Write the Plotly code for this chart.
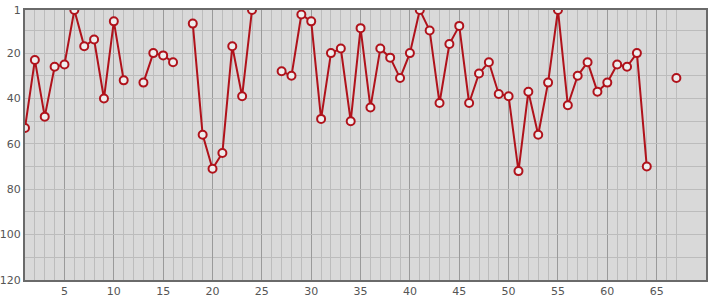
import plotly.graph_objects as go

x_vals = list(range(1, 68))
ranks = [53, 23, 48, 26, 25, 1, 17, 14, 40, 6,
         32, None, 33, 20, 21, 24, None, 7, 56, 71,
         64, 17, 39, 1, None, None, 28, 30, 3, 6,
         49, 20, 18, 50, 9, 44, 18, 22, 31, 20,
         1, 10, 42, 16, 8, 42, 29, 24, 38, 39,
         72, 37, 56, 33, 1, 43, 30, 24, 37, 33,
         25, 26, 20, 70, None, None, 31]
y_ticks = [1, 20, 40, 60, 80, 100, 120]
x_ticks = [5, 10, 15, 20, 25, 30, 35, 40, 45, 50, 55, 60, 65]

fig = go.Figure()
fig.add_trace(go.Scatter(
    x=x_vals, y=ranks, mode="lines+markers",
    line=dict(color="#b0121b", width=2),
    marker=dict(symbol="circle", size=8, color="#eeeeee",
                line=dict(color="#b0121b", width=2)),
    connectgaps=False, hoverinfo="x+y",
))

fig.update_layout(
    width=715, height=300,
    margin=dict(l=25, r=9, t=10, b=20),
    paper_bgcolor="white", plot_bgcolor="#d9d9d9",
    showlegend=False,
    font=dict(family="DejaVu Sans", size=11, color="#555555"),
)
fig.update_xaxes(
    range=[1, 70], tickmode="array", tickvals=x_ticks, automargin=False,
    showgrid=True, gridcolor="#9a9a9a", gridwidth=1,
    minor=dict(tickmode="array", tickvals=[v for v in x_vals if v % 5 != 0],
               showgrid=True, gridcolor="#bcbcbc", gridwidth=1),
    zeroline=False, showline=True, linecolor="#6a6a6a", linewidth=2, mirror=True,
    ticks="", ticklen=0, ticklabelstandoff=0, tickfont=dict(size=11, color="#555555"),
)
fig.update_yaxes(
    range=[120, 1], tickmode="array", tickvals=y_ticks, automargin=False,
    showgrid=True, gridcolor="#bcbcbc", gridwidth=1,
    minor=dict(tickmode="array", tickvals=[10, 30, 50, 70, 90, 110],
               showgrid=True, gridcolor="#bcbcbc", gridwidth=1),
    zeroline=False, showline=True, linecolor="#6a6a6a", linewidth=2, mirror=True,
    ticks="", ticklabelstandoff=0, tickfont=dict(size=11, color="#555555"),
)

fig.write_html("out.html")
